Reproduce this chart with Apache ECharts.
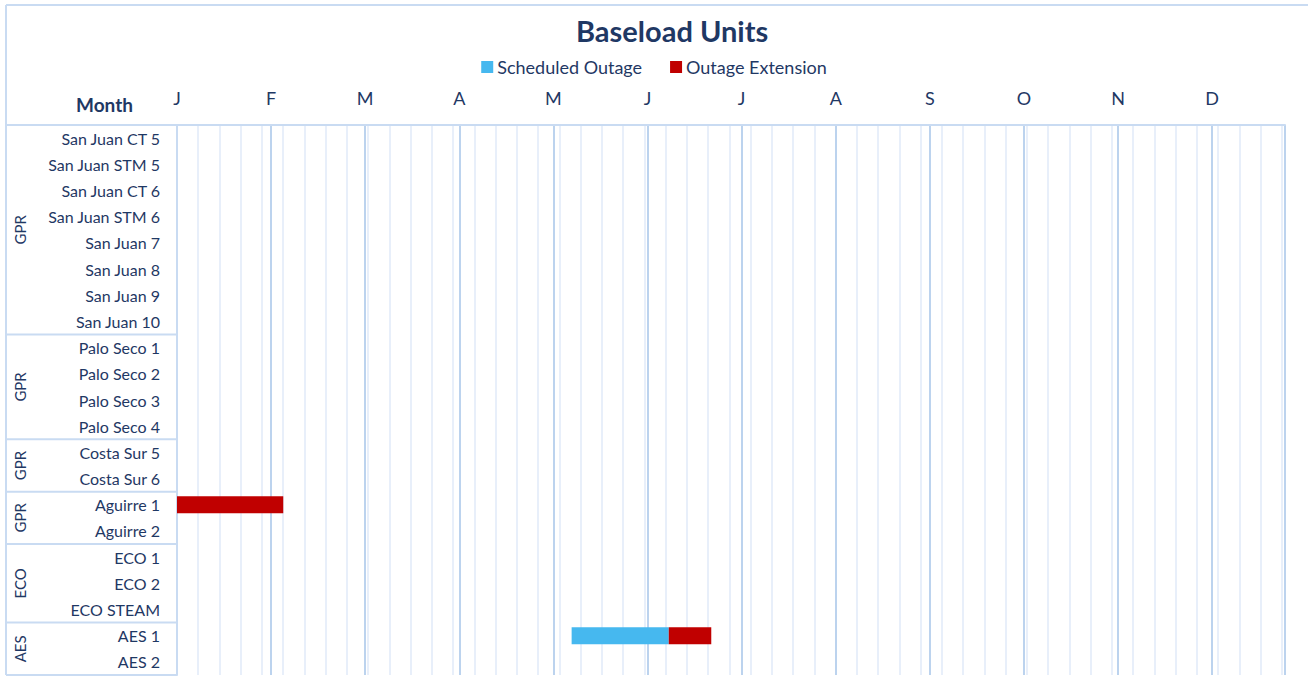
<!DOCTYPE html>
<html><head><meta charset="utf-8">
<script src="https://cdn.jsdelivr.net/npm/echarts@6/dist/echarts.min.js"></script>
<style>html,body{margin:0;padding:0;background:#fff}#c{width:1308px;height:677px}</style>
</head><body><div id="c"></div>
<script>
const units = ['San Juan CT 5','San Juan STM 5','San Juan CT 6','San Juan STM 6','San Juan 7','San Juan 8','San Juan 9','San Juan 10',
  'Palo Seco 1','Palo Seco 2','Palo Seco 3','Palo Seco 4','Costa Sur 5','Costa Sur 6','Aguirre 1','Aguirre 2',
  'ECO 1','ECO 2','ECO STEAM','AES 1','AES 2'];
const groupNames = ['GPR','GPR','GPR','GPR','ECO','AES'];
const groupSizes = [8,4,2,2,3,2];
const monthLabels = ['J','F','M','A','M','J','J','A','S','O','N','D'];
// day-of-year values
const outageStart    = [0,0,0,0,0,0,0,0,0,0,0,0,0,0,0,0,0,0,0,130,0];
const scheduledDays  = [0,0,0,0,0,0,0,0,0,0,0,0,0,0,0,0,0,0,0,32,0];
const extensionDays  = [0,0,0,0,0,0,0,0,0,0,0,0,0,0,35,0,0,0,0,14,0];

const FONT = 'Lato';
const TXT = '#1f3864';
const FRAME = '#c9dbf2';
const chart = echarts.init(document.getElementById('c'), null, {renderer:'svg'});
const option = {
  animation:false,
  textStyle:{fontFamily:FONT},
  title:{text:'Baseload Units', left:571, top:11, textStyle:{fontSize:29, fontWeight:'bold', color:TXT, fontFamily:FONT}},
  legend:{top:53, left:'center', itemWidth:12, itemHeight:12, itemGap:28, icon:'rect',
    data:['Scheduled Outage','Outage Extension'],
    textStyle:{fontSize:18, color:TXT, fontFamily:FONT, padding:[0,0,0,-1]}},
  grid:{left:177, right:23, top:125, bottom:2, containLabel:false},
  xAxis:[
    {type:'value', min:0, max:365, interval:7, position:'bottom',
      axisLine:{show:false}, axisTick:{show:false}, axisLabel:{show:false},
      splitLine:{show:true, lineStyle:{color:'#e8effa', width:2}}},
    {type:'value', min:0, max:365, interval:31, position:'top',
      axisLine:{show:true, lineStyle:{color:FRAME, width:2}}, axisTick:{show:false},
      axisLabel:{show:true, margin:18, fontSize:18, color:TXT, fontFamily:FONT, showMaxLabel:false,
        formatter:v=> (v%31===0 && v/31<12) ? monthLabels[v/31] : ''},
      splitLine:{show:true, lineStyle:{color:'#bcd3ee', width:2}}}
  ],
  yAxis:{type:'category', data:units, inverse:true,
    axisLine:{show:true, lineStyle:{color:FRAME, width:2}}, axisTick:{show:false},
    axisLabel:{fontSize:16, color:TXT, margin:17, fontFamily:FONT},
    splitLine:{show:false}},
  series:[
    {name:'offset', type:'bar', stack:'t', data:outageStart, barWidth:17,
      itemStyle:{color:'transparent'}, silent:true},
    {name:'Scheduled Outage', type:'bar', stack:'t', data:scheduledDays, barWidth:17,
      itemStyle:{color:'#46b8ef'}},
    {name:'Outage Extension', type:'bar', stack:'t', data:extensionDays, barWidth:17,
      itemStyle:{color:'#c00000'}}
  ]
};
chart.setOption(option);

// left column: frame, group separators and rotated group labels
const yc = i => chart.convertToPixel({yAxisIndex:0}, units[i]);
const rowH = yc(1) - yc(0);
const topY = yc(0) - rowH/2;
const bottomY = yc(units.length-1) + rowH/2;
const leftX = chart.convertToPixel({xAxisIndex:0}, 0);
const rightX = chart.convertToPixel({xAxisIndex:0}, 365);
const g = [];
const ls = {stroke:FRAME, lineWidth:2};
g.push({type:'line', shape:{x1:6, y1:5, x2:1308, y2:5}, style:ls});
g.push({type:'line', shape:{x1:6, y1:5, x2:6, y2:bottomY}, style:ls});
g.push({type:'line', shape:{x1:6, y1:topY, x2:rightX, y2:topY}, style:ls});
g.push({type:'line', shape:{x1:6, y1:bottomY, x2:leftX, y2:bottomY}, style:ls});
let idx = 0;
groupNames.forEach((name, k) => {
  const a = yc(idx) - rowH/2;
  const b = yc(idx + groupSizes[k] - 1) + rowH/2;
  if (k < groupNames.length-1) g.push({type:'line', shape:{x1:6, y1:b, x2:leftX, y2:b}, style:ls});
  g.push({type:'text', x:20, y:(a+b)/2, rotation:Math.PI/2,
    style:{text:name, fill:TXT, font:'15px ' + FONT, align:'center', verticalAlign:'middle'}});
  idx += groupSizes[k];
});
g.push({type:'text', x:133, y:104, style:{text:'Month', fill:TXT, font:'bold 19px ' + FONT, align:'right', verticalAlign:'middle'}});
chart.setOption({graphic:g});
</script></body></html>
